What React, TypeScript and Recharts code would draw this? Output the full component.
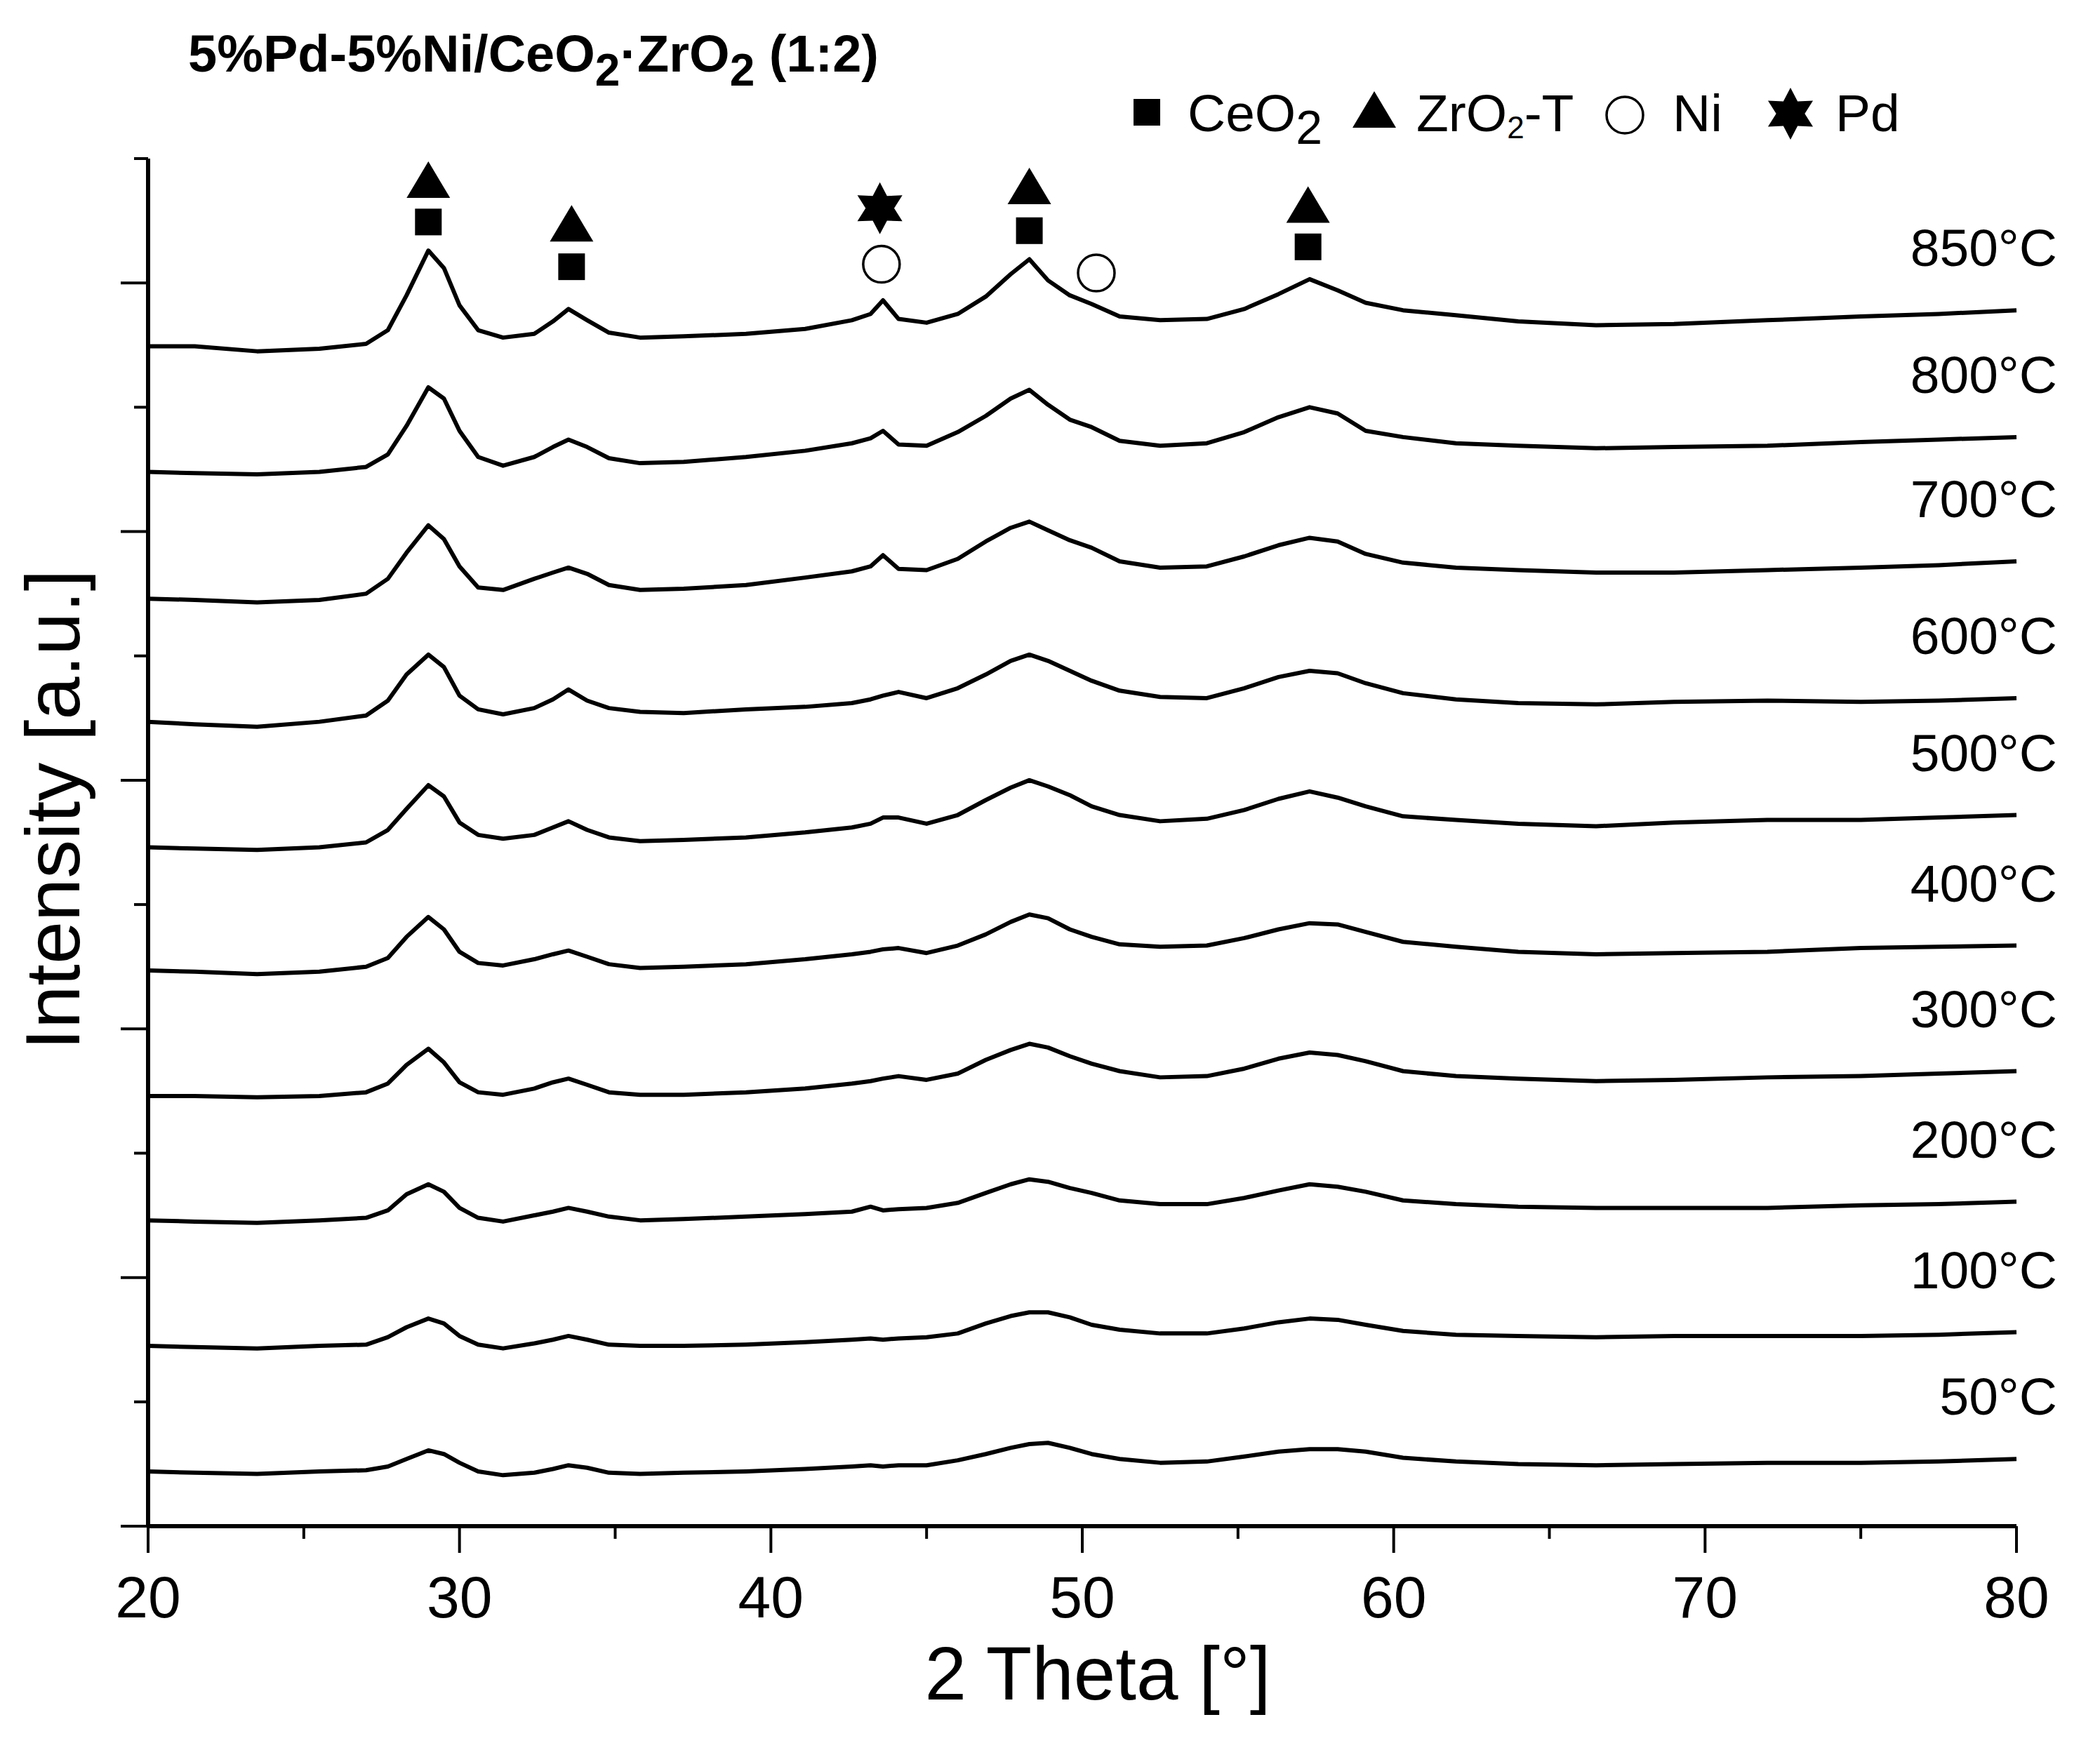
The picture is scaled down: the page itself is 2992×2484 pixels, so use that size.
import React from "react";
import { LineChart, Line, XAxis, YAxis, ReferenceDot, Label } from "recharts";

const FONT = '"Liberation Sans", Arial, Helvetica, sans-serif';

// 2 theta grid (degrees)
const twoTheta = [
  20, 21.5, 23.5, 25.5, 27, 27.7, 28.3, 29, 29.5, 30, 30.6, 31.4, 32.4, 33, 33.5, 34.1, 34.8, 35.8, 37.2, 39.2,
  41.1, 42.6, 43.2, 43.6, 44.1, 45, 46, 46.9, 47.7, 48.3, 48.9, 49.6, 50.3, 51.2, 52.5, 54, 55.2, 56.3, 57.3, 58.2,
  59.1, 60.3, 62, 64, 66.5, 69, 72, 75, 77.5, 80,
];

// stacked intensities
const t850 = [
  9.49, 9.49, 9.45, 9.47, 9.51, 9.62, 9.9, 10.26, 10.12, 9.82, 9.62, 9.56, 9.59, 9.69, 9.79, 9.7, 9.6, 9.56, 9.57, 9.59,
  9.63, 9.7, 9.75, 9.86, 9.71, 9.68, 9.75, 9.89, 10.07, 10.19, 10.02, 9.9, 9.83, 9.73, 9.7, 9.71, 9.79, 9.91, 10.03, 9.94,
  9.84, 9.78, 9.74, 9.69, 9.66, 9.67, 9.7, 9.73, 9.75, 9.78,
];
const t800 = [
  8.48, 8.47, 8.46, 8.48, 8.52, 8.62, 8.85, 9.16, 9.07, 8.81, 8.6, 8.53, 8.6, 8.68, 8.74, 8.68, 8.59, 8.55, 8.56, 8.6,
  8.65, 8.71, 8.75, 8.81, 8.7, 8.69, 8.8, 8.93, 9.07, 9.14, 9.02, 8.9, 8.84, 8.73, 8.69, 8.71, 8.8, 8.92, 9.0, 8.95,
  8.81, 8.76, 8.71, 8.69, 8.67, 8.68, 8.69, 8.72, 8.74, 8.76,
];
const t700 = [
  7.46, 7.45, 7.43, 7.45, 7.5, 7.62, 7.83, 8.05, 7.94, 7.72, 7.55, 7.53, 7.62, 7.67, 7.71, 7.66, 7.57, 7.53, 7.54, 7.57,
  7.63, 7.68, 7.72, 7.81, 7.7, 7.69, 7.78, 7.92, 8.03, 8.08, 8.01, 7.93, 7.87, 7.76, 7.71, 7.72, 7.8, 7.89, 7.95, 7.92,
  7.82, 7.75, 7.71, 7.69, 7.67, 7.67, 7.69, 7.71, 7.73, 7.76,
];
const t600 = [
  6.47, 6.45, 6.43, 6.47, 6.52, 6.64, 6.85, 7.01, 6.91, 6.68, 6.57, 6.53, 6.58, 6.65, 6.73, 6.64, 6.58, 6.55, 6.54, 6.57,
  6.59, 6.62, 6.65, 6.68, 6.71, 6.66, 6.74, 6.85, 6.96, 7.01, 6.96, 6.88, 6.8, 6.72, 6.67, 6.66, 6.74, 6.83, 6.88, 6.86,
  6.78, 6.7, 6.65, 6.62, 6.61, 6.63, 6.64, 6.63, 6.64, 6.66,
];
const t500 = [
  5.46, 5.45, 5.44, 5.46, 5.5, 5.6, 5.77, 5.96, 5.87, 5.66, 5.56, 5.53, 5.56, 5.62, 5.67, 5.6, 5.54, 5.51, 5.52, 5.54,
  5.58, 5.62, 5.65, 5.7, 5.7, 5.65, 5.72, 5.84, 5.94, 6.0, 5.95, 5.88, 5.79, 5.72, 5.67, 5.69, 5.76, 5.85, 5.91, 5.86,
  5.79, 5.71, 5.68, 5.65, 5.63, 5.66, 5.68, 5.68, 5.7, 5.72,
];
const t400 = [
  4.47, 4.46, 4.44, 4.46, 4.5, 4.57, 4.74, 4.9, 4.8, 4.62, 4.53, 4.51, 4.56, 4.6, 4.63, 4.58, 4.52, 4.49, 4.5, 4.52,
  4.56, 4.6, 4.62, 4.64, 4.65, 4.61, 4.67, 4.76, 4.86, 4.92, 4.89, 4.8, 4.74, 4.68, 4.66, 4.67, 4.73, 4.8, 4.85, 4.84,
  4.78, 4.7, 4.66, 4.62, 4.6, 4.61, 4.62, 4.65, 4.66, 4.67,
];
const t300 = [
  3.46, 3.46, 3.45, 3.46, 3.49, 3.56, 3.71, 3.84, 3.73, 3.57, 3.49, 3.47, 3.52, 3.57, 3.6, 3.55, 3.49, 3.47, 3.47, 3.49,
  3.52, 3.56, 3.58, 3.6, 3.62, 3.59, 3.64, 3.75, 3.83, 3.88, 3.85, 3.78, 3.72, 3.66, 3.61, 3.62, 3.68, 3.76, 3.81, 3.79,
  3.74, 3.66, 3.62, 3.6, 3.58, 3.59, 3.61, 3.62, 3.64, 3.66,
];
const t200 = [
  2.46, 2.45, 2.44, 2.46, 2.48, 2.54, 2.67, 2.75, 2.69, 2.56, 2.48, 2.45, 2.5, 2.53, 2.56, 2.53, 2.49, 2.46, 2.47, 2.49,
  2.51, 2.53, 2.57, 2.54, 2.55, 2.56, 2.6, 2.68, 2.75, 2.79, 2.77, 2.72, 2.68, 2.62, 2.59, 2.59, 2.64, 2.7, 2.75, 2.73,
  2.69, 2.62, 2.59, 2.57, 2.56, 2.56, 2.56, 2.58, 2.59, 2.61,
];
const t100 = [
  1.45, 1.44, 1.43, 1.45, 1.46, 1.52, 1.6, 1.67, 1.63, 1.53, 1.46, 1.43, 1.47, 1.5, 1.53, 1.5, 1.46, 1.45, 1.45, 1.46,
  1.48, 1.5, 1.51, 1.5, 1.51, 1.52, 1.55, 1.63, 1.69, 1.72, 1.72, 1.68, 1.62, 1.58, 1.55, 1.55, 1.59, 1.64, 1.67, 1.66,
  1.62, 1.57, 1.54, 1.53, 1.52, 1.53, 1.53, 1.53, 1.54, 1.56,
];
const t50 = [
  0.44, 0.43, 0.42, 0.44, 0.45, 0.48, 0.54, 0.61, 0.58, 0.51, 0.44, 0.41, 0.43, 0.46, 0.49, 0.47, 0.43, 0.42, 0.43, 0.44,
  0.46, 0.48, 0.49, 0.48, 0.49, 0.49, 0.53, 0.58, 0.63, 0.66, 0.67, 0.63, 0.58, 0.54, 0.51, 0.52, 0.56, 0.6, 0.62, 0.62,
  0.6, 0.55, 0.52, 0.5, 0.49, 0.5, 0.51, 0.51, 0.52, 0.54,
];

const tempLabels = ["850°C", "800°C", "700°C", "600°C", "500°C", "400°C", "300°C", "200°C", "100°C", "50°C"];
const tempSeries = [t850, t800, t700, t600, t500, t400, t300, t200, t100, t50];

// phase markers above the 850°C pattern
const markerKind = ["tri", "sq", "tri", "sq", "star", "circ", "tri", "sq", "circ", "tri", "sq"];
const markerTheta = [29.0, 29.0, 33.6, 33.6, 43.5, 43.55, 48.3, 48.3, 50.45, 57.25, 57.25];
const markerLevel = [10.83, 10.49, 10.48, 10.13, 10.6, 10.15, 10.78, 10.42, 10.08, 10.63, 10.29];

const xTicks = [20, 25, 30, 35, 40, 45, 50, 55, 60, 65, 70, 75, 80];
const yTicks = [0, 1, 2, 3, 4, 5, 6, 7, 8, 9, 10, 11];

const data = twoTheta.map((x, i) => {
  const row: Record<string, number> = { x };
  tempSeries.forEach((s, k) => {
    row["s" + k] = s[i];
  });
  return row;
});

function starPoints(cx: number, cy: number, R: number) {
  const pts: string[] = [];
  for (let k = 0; k < 12; k++) {
    const a = ((-90 + k * 30) * Math.PI) / 180;
    const r = k % 2 === 0 ? R : R * 0.55;
    pts.push(`${cx + r * Math.cos(a)},${cy + r * Math.sin(a)}`);
  }
  return pts.join(" ");
}

function Symbol({ kind, cx, cy }: { kind: string; cx: number; cy: number }) {
  if (kind === "sq") return <rect x={cx - 19} y={cy - 19} width={38} height={38} fill="#000" />;
  if (kind === "tri")
    return <polygon points={`${cx - 31},${cy + 26} ${cx + 31},${cy + 26} ${cx},${cy - 26}`} fill="#000" />;
  if (kind === "circ") return <circle cx={cx} cy={cy} r={26} fill="#fff" stroke="#000" strokeWidth={3.5} />;
  return <polygon points={starPoints(cx, cy, 37)} fill="#000" />;
}

const YTick = (props: any) => {
  const { x, y, payload } = props;
  const len = payload.value % 2 === 0 ? 39 : 20;
  return <line x1={x - len} y1={y} x2={x} y2={y} stroke="#000" strokeWidth={4} />;
};

const XTick = (props: any) => {
  const { x, y, payload } = props;
  const major = payload.value % 10 === 0;
  return (
    <g>
      <line x1={x} y1={y} x2={x} y2={y + (major ? 38 : 18)} stroke="#000" strokeWidth={4} />
      {major && (
        <text x={x} y={y + 130} textAnchor="middle" fontSize={84} fontFamily={FONT} fill="#000">
          {payload.value}
        </text>
      )}
    </g>
  );
};

export default function App() {
  return (
    <div style={{ position: "absolute", left: 0, top: 0, width: 2992, height: 2484, background: "#fff" }}>
      <LineChart width={2992} height={2484} data={data} margin={{ top: 226, right: 119, bottom: 0, left: 0 }}>
        <XAxis
          dataKey="x"
          type="number"
          domain={[20, 80]}
          ticks={xTicks}
          interval={0}
          height={309}
          tickSize={0}
          tickMargin={0}
          tickLine={false}
          axisLine={{ stroke: "#000", strokeWidth: 6 }}
          tick={<XTick />}
        >
          <Label
            content={(p: any) => {
              const vb = p.viewBox;
              return (
                <text x={vb.x + vb.width / 2 + 22} y={vb.y + 247} textAnchor="middle" fontSize={107} fontFamily={FONT} fill="#000">
                  2 Theta [°]
                </text>
              );
            }}
          />
        </XAxis>
        <YAxis
          type="number"
          domain={[0, 11]}
          ticks={yTicks}
          interval={0}
          width={211}
          tickSize={0}
          tickMargin={0}
          tickLine={false}
          axisLine={{ stroke: "#000", strokeWidth: 6 }}
          tick={<YTick />}
        >
          <Label
            content={() => (
              <text
                x={113}
                y={1154}
                transform="rotate(-90 113 1154)"
                textAnchor="middle"
                fontSize={110}
                fontFamily={FONT}
                fill="#000"
              >
                Intensity [a.u.]
              </text>
            )}
          />
        </YAxis>
        {tempSeries.map((s, k) => (
          <Line
            key={k}
            type="linear"
            dataKey={"s" + k}
            stroke="#000"
            strokeWidth={6}
            strokeLinejoin="round"
            dot={false}
            activeDot={false}
            isAnimationActive={false}
          />
        ))}
        {tempSeries.map((s, k) => (
          <ReferenceDot
            key={"lab" + k}
            x={80}
            y={s[s.length - 1]}
            r={1}
            shape={(p: any) => (
              <text x={p.cx + 58} y={p.cy - 63} textAnchor="end" fontSize={75} fontFamily={FONT} fill="#000">
                {tempLabels[k]}
              </text>
            )}
          />
        ))}
        {markerKind.map((kind, i) => (
          <ReferenceDot
            key={"m" + i}
            x={markerTheta[i]}
            y={markerLevel[i]}
            r={1}
            shape={(p: any) => <Symbol kind={kind} cx={p.cx} cy={p.cy} />}
          />
        ))}
      </LineChart>
      <svg
        width={2992}
        height={260}
        style={{ position: "absolute", left: 0, top: 0, pointerEvents: "none" }}
        fontFamily={FONT}
      >
        <text x={268} y={102} fontSize={74} fontWeight="bold" fill="#000">
          5%Pd-5%Ni/CeO
          <tspan fontSize={64} dy={20}>2</tspan>
          <tspan dy={-20}>·ZrO</tspan>
          <tspan fontSize={64} dy={20}>2</tspan>
          <tspan dy={-20}> (1:2)</tspan>
        </text>
        <Symbol kind="sq" cx={1634} cy={160} />
        <text x={1692} y={187} fontSize={75} fill="#000">
          CeO<tspan fontSize={68} dy={18}>2</tspan>
        </text>
        <Symbol kind="tri" cx={1958} cy={156} />
        <text x={2018} y={187} fontSize={75} fill="#000">
          ZrO<tspan fontSize={44} dy={10}>2</tspan>
          <tspan dy={-10}>-T</tspan>
        </text>
        <Symbol kind="circ" cx={2315} cy={164} />
        <text x={2383} y={187} fontSize={75} fill="#000">
          Ni
        </text>
        <Symbol kind="star" cx={2551} cy={162} />
        <text x={2615} y={187} fontSize={75} fill="#000">
          Pd
        </text>
      </svg>
    </div>
  );
}
